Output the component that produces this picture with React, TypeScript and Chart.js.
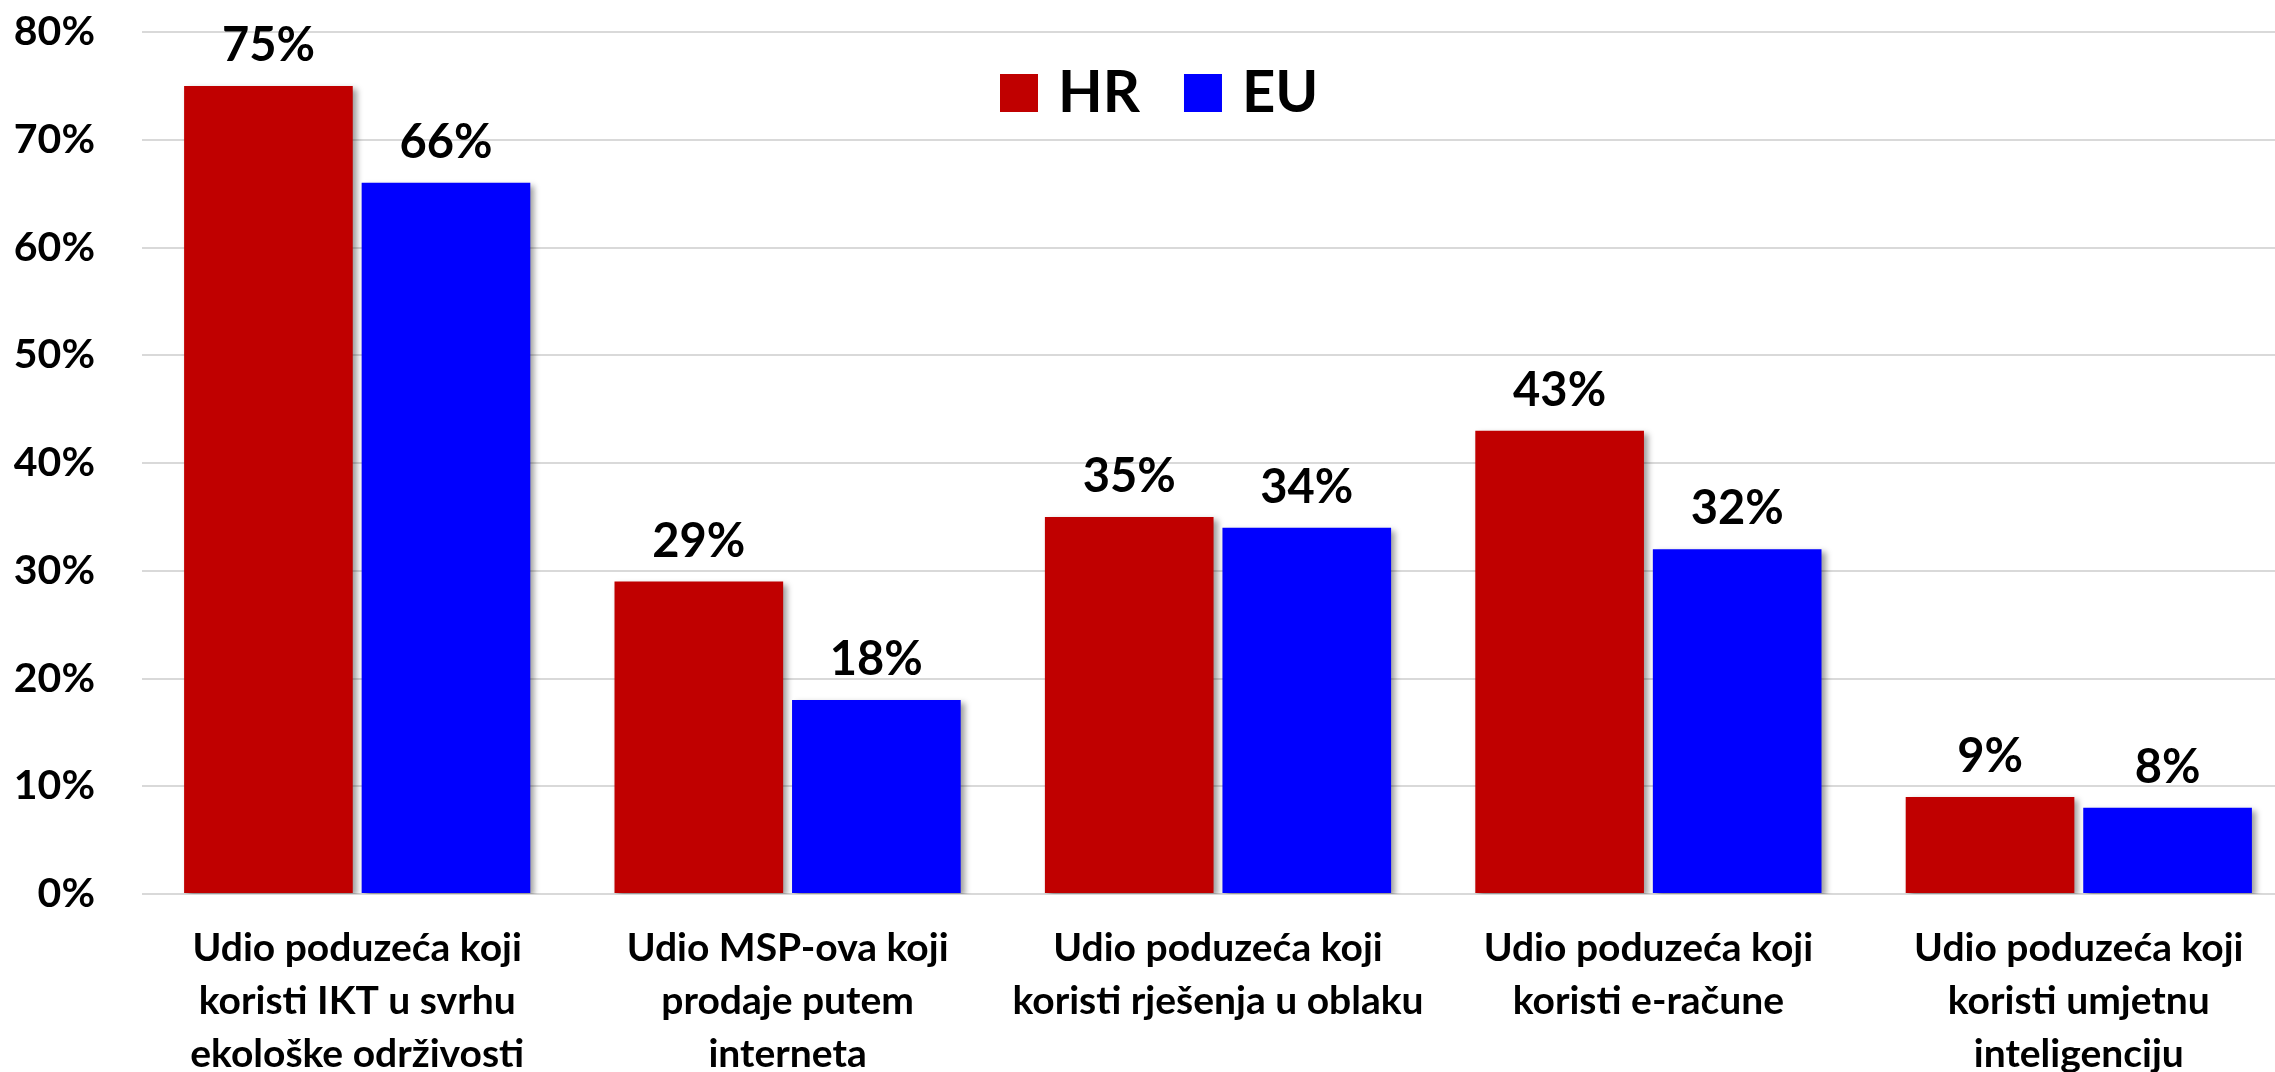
import React, { useEffect, useRef } from "react";
import { Chart, registerables } from "chart.js";

Chart.register(...registerables);

const categories: string[][] = [
  ["Udio poduzeća koji", "koristi IKT u svrhu", "ekološke održivosti"],
  ["Udio MSP-ova koji", "prodaje putem", "interneta"],
  ["Udio poduzeća koji", "koristi rješenja u oblaku"],
  ["Udio poduzeća koji", "koristi e-račune"],
  ["Udio poduzeća koji", "koristi umjetnu", "inteligenciju"],
];
const seriesNames = ["HR", "EU"];
const hrValues = [75, 29, 35, 43, 9];
const euValues = [66, 18, 34, 32, 8];
const seriesColors = ["#C00000", "#0000FF"];
const yTicks = [0, 10, 20, 30, 40, 50, 60, 70, 80];

const FONT = "Lato";

const shadowPlugin = {
  id: "barShadow",
  beforeDatasetsDraw(chart: any) {
    const ctx = chart.ctx;
    ctx.save();
    ctx.shadowColor = "rgba(0,0,0,0.38)";
    ctx.shadowBlur = 6;
    ctx.shadowOffsetX = 4;
    ctx.shadowOffsetY = 3;
  },
  afterDatasetsDraw(chart: any) {
    chart.ctx.restore();
  },
};

const valueLabelPlugin = {
  id: "valueLabels",
  afterDatasetsDraw(chart: any) {
    const ctx = chart.ctx;
    ctx.save();
    ctx.font = `bold 47px ${FONT}`;
    ctx.fillStyle = "#000000";
    ctx.textAlign = "center";
    ctx.textBaseline = "alphabetic";
    chart.data.datasets.forEach((ds: any, di: number) => {
      const meta = chart.getDatasetMeta(di);
      meta.data.forEach((bar: any, i: number) => {
        ctx.fillText(`${ds.data[i]}%`, bar.x, bar.y - 25);
      });
    });
    ctx.restore();
  },
};

const legendPlugin = {
  id: "customLegend",
  afterDraw(chart: any) {
    const ctx = chart.ctx;
    ctx.save();
    ctx.font = `bold 58px ${FONT}`;
    ctx.textAlign = "left";
    ctx.textBaseline = "alphabetic";
    let x = 1000;
    const top = 74;
    const box = 38;
    chart.data.datasets.forEach((ds: any) => {
      ctx.fillStyle = ds.backgroundColor;
      ctx.fillRect(x, top, box, box);
      x += box + 20;
      ctx.fillStyle = "#000000";
      ctx.fillText(ds.label, x, top + box);
      x += ctx.measureText(ds.label).width + 44;
    });
    ctx.restore();
  },
};

export default function App() {
  const ref = useRef<HTMLCanvasElement | null>(null);

  useEffect(() => {
    if (!ref.current) return;
    const chart = new Chart(ref.current, {
      type: "bar",
      data: {
        labels: categories,
        datasets: [
          {
            label: seriesNames[0],
            data: hrValues,
            backgroundColor: seriesColors[0],
            categoryPercentage: 0.825,
            barPercentage: 0.95,
          },
          {
            label: seriesNames[1],
            data: euValues,
            backgroundColor: seriesColors[1],
            categoryPercentage: 0.825,
            barPercentage: 0.95,
          },
        ],
      },
      options: {
        responsive: false,
        animation: false,
        devicePixelRatio: 1,
        layout: { padding: { top: 32, left: 0, right: 0, bottom: 0 } },
        plugins: {
          legend: { display: false },
          tooltip: { enabled: false },
        },
        scales: {
          x: {
            grid: { display: false, drawTicks: false },
            border: { display: false },
            ticks: {
              color: "#000000",
              font: { family: FONT, size: 39, weight: "bold", lineHeight: 1.36 },
              padding: 28,
              maxRotation: 0,
              autoSkip: false,
            },
            afterFit: (scale: any) => {
              scale.height = 178;
            },
          },
          y: {
            min: yTicks[0],
            max: yTicks[yTicks.length - 1],
            grid: { color: "#d9d9d9", lineWidth: 2, drawTicks: false },
            border: { display: false },
            ticks: {
              stepSize: 10,
              color: "#000000",
              font: { family: FONT, size: 41, weight: "bold" },
              padding: 47,
              callback: (v: any) => `${v}%`,
            },
            afterFit: (scale: any) => {
              scale.width = 142;
              scale.paddingTop = 0;
              scale.paddingBottom = 0;
            },
          },
        },
      },
      plugins: [shadowPlugin, valueLabelPlugin, legendPlugin],
    });
    return () => chart.destroy();
  }, []);

  return (
    <div
      style={{
        position: "absolute",
        left: 0,
        top: 0,
        width: 2275,
        height: 1072,
        overflow: "hidden",
        background: "#ffffff",
      }}
    >
      <canvas ref={ref} width={2294} height={1072} style={{ width: 2294, height: 1072, display: "block" }} />
    </div>
  );
}
